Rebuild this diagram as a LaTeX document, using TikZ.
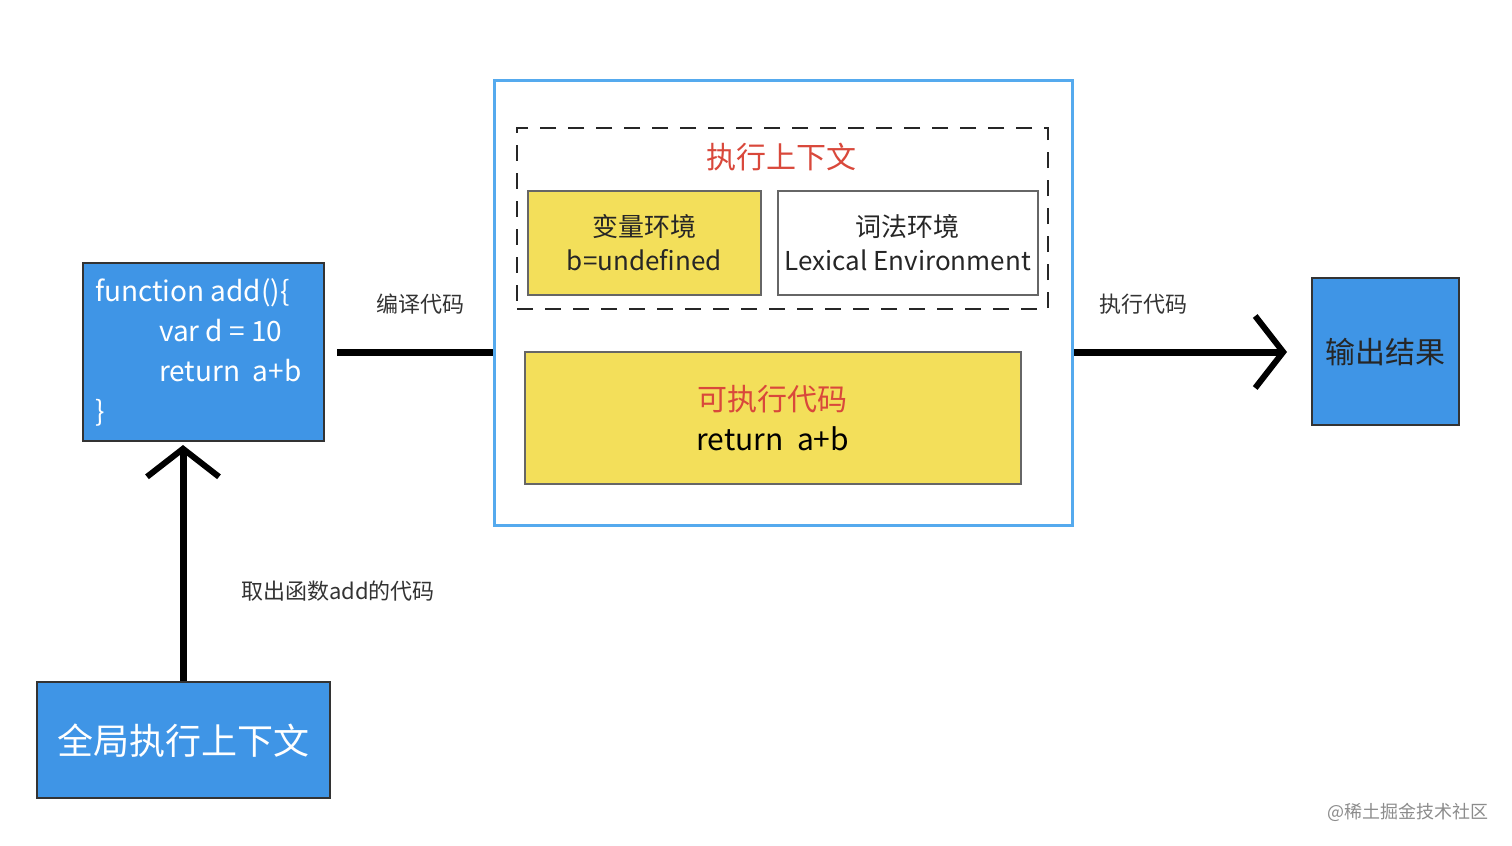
\documentclass[tikz,border=0pt]{standalone}
\usepackage{fontspec}
\setmainfont{Noto Sans CJK SC}
\usetikzlibrary{arrows.meta}
\definecolor{bl}{HTML}{3F95E6}
\definecolor{yl}{HTML}{F3DF5A}
\definecolor{rd}{HTML}{D9483B}
\definecolor{lb}{HTML}{55AAEE}
\tikzset{
 bluebox/.style={draw=black!80,line width=1.2pt,fill=bl},
 yelbox/.style={draw=black!60,line width=0.8pt,fill=yl},
 conn/.style={line width=3.5pt,black},
 lbl/.style={font=\fontsize{11}{13}\selectfont,text=black!80},
 chev/.style={-{Straight Barb[length=14pt,width=36pt,line width=3pt]}}
}
\begin{document}
\begin{tikzpicture}[x=0.5pt,y=-0.5pt]
\useasboundingbox (0,0) rectangle (1512,846);
% function box
\node[bluebox,minimum width=120.5pt,minimum height=89pt,anchor=north west] (fn) at (82,262) {};
\node[anchor=north west,text=white,font=\fontsize{14}{20}\selectfont,align=left] (fnt) at (88,272)
 {function add()\{\\\hspace{32pt}var d = 10\\\hspace{32pt}return\ \ a+b\\\}};
% global
\node[bluebox,minimum width=146.5pt,minimum height=58pt,anchor=north west] (gl) at (36,681) {};
\node[text=white,font=\fontsize{18}{20}\selectfont] at (gl.center) {全局执行上下文};
\draw[conn,chev] (gl.north -| 183,0) -- (183,445) coordinate (fnb);
\node[lbl] (l1) at (338,591) {取出函数add的代码};
% outer
\node[draw=lb,line width=1.5pt,fill=white,minimum width=289pt,minimum height=222.5pt,anchor=north west] (outer) at (493,79) {};
\node[draw=black!85,dashed,dash pattern=on 8pt off 6pt,line width=1.2pt,minimum width=265.5pt,minimum height=90.5pt,anchor=north west] (ec) at (516,127) {};
\node[text=rd,font=\fontsize{15}{18}\selectfont] (ect) at (781,157) {执行上下文};
\node[yelbox,minimum width=116.5pt,minimum height=52pt,anchor=north west,align=center,font=\fontsize{13}{17}\selectfont,text=black!85] (ve) at (527,190) {变量环境\\b=undefined};
\node[draw=black!60,line width=0.8pt,fill=white,minimum width=130pt,minimum height=52pt,anchor=north west,align=center,font=\fontsize{13}{17}\selectfont,text=black!85] (le) at (777,190) {词法环境\\Lexical Environment};
\node[yelbox,minimum width=248pt,minimum height=66pt,anchor=north west] (code) at (524,351) {};
\node[align=center,font=\fontsize{15}{20}\selectfont] at (code.center) {\textcolor{rd}{可执行代码}\\return\ \ a+b};
% connectors
\coordinate (s1) at (337,352);
\draw[conn] (s1) -- (outer.west |- s1);
\node[lbl] (l2) at (420,304) {编译代码};
\node[bluebox,minimum width=73.5pt,minimum height=73.5pt,anchor=north west] (out) at (1311,277) {};
\node[font=\fontsize{15}{18}\selectfont,text=black!85] at (out.center) {输出结果};
\draw[conn,chev] (outer.east |- s1) -- (1287,352);
\node[lbl] (l3) at (1143,304) {执行代码};
\node[text=black!45,font=\fontsize{9}{11}\selectfont] (wm) at (1408,812) {@稀土掘金技术社区};
\end{tikzpicture}
\end{document}
